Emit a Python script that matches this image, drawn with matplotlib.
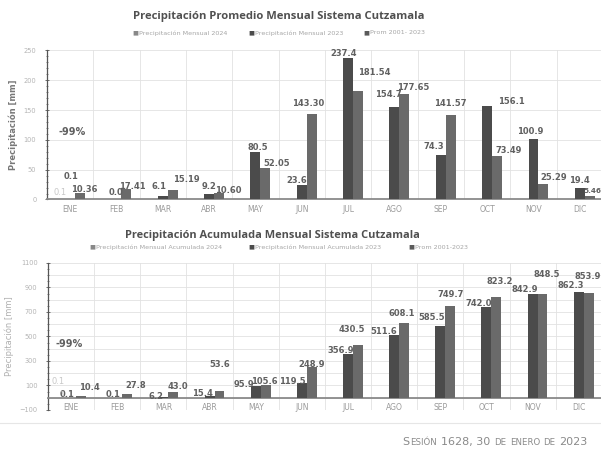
import matplotlib
matplotlib.use("Agg")
import matplotlib.pyplot as plt
import numpy as np
from matplotlib.ticker import MultipleLocator, FixedLocator

# datos (mm)
meses = ["ENE", "FEB", "MAR", "ABR", "MAY", "JUN", "JUL", "AGO", "SEP", "OCT", "NOV", "DIC"]

mensual_2024 = [0.1] + [np.nan] * 11
mensual_2023 = [0.1, 0.0, 6.1, 9.2, 80.5, 23.6, 237.4, 154.7, 74.3, 156.1, 100.9, 19.4]
mensual_prom = [10.36, 17.41, 15.19, 10.60, 52.05, 143.30, 181.54, 177.65, 141.57, 73.49, 25.29, 5.46]

acum_2024 = [0.1] + [np.nan] * 11
acum_2023 = [0.1, 0.1, 6.2, 15.4, 95.9, 119.5, 356.9, 511.6, 585.5, 742.0, 842.9, 862.3]
acum_prom = [10.4, 27.8, 43.0, 53.6, 105.6, 248.9, 430.5, 608.1, 749.7, 823.2, 848.5, 853.9]

# desplazamientos de etiquetas (dx en categorias, dy en mm)
off_m23 = [(0.02, 39), (0, 11), (-0.09, 16), (0, 12), (0.06, 6), (-0.1, 8),
           (-0.1, 7), (-0.13, 21), (-0.14, 14), (0.52, 8), (-0.07, 13), (0.0, 12)]
off_mpr = [(0.1, 6), (0.12, 5), (0.3, 19), (0.2, 4), (0.25, 9), (-0.07, 18),
           (0.35, 32), (0.2, 11), (0, 19), (0.25, 9), (0.23, 11), (0.045, 8.5)]
off_a23 = [(-0.09, 30), (-0.1, 30), (-0.15, 8), (-0.15, 23), (-0.26, 16), (-0.2, 16),
           (-0.15, 32), (-0.22, 32), (-0.18, 72), (-0.17, 29), (-0.18, 44), (-0.18, 50)]
off_apr = [(0.18, 77), (0.18, 76), (0.09, 52), (0, 221), (-0.02, 26), (0, 26),
           (-0.13, 130), (-0.05, 82), (0, 95), (0.08, 129), (0.1, 160), (-0.02, 138)]

C24 = "#c4c4c4"
C23 = "#4b4b4b"
CPR = "#6a6a6a"
TXT = "#606060"
LIGHT = "#b4b4b4"
W = 0.215

plt.rcParams["font.family"] = ["DejaVu Sans"]

fig = plt.figure(figsize=(6.01, 4.5), dpi=100)
fig.patch.set_facecolor("white")


def base_axes(ax, ymin, ymax, major, minor, grid_step):
    x = np.arange(len(meses))
    ax.set_xlim(-0.5, 11.52)
    ax.set_ylim(ymin, ymax)
    ax.set_xticks(x, labels=meses)
    ax.xaxis.set_minor_locator(FixedLocator(np.arange(-0.5, 12, 1)))
    ax.grid(True, which="minor", axis="x", color="#e2e2e2", lw=0.6)
    ax.yaxis.set_major_locator(MultipleLocator(major))
    ax.yaxis.set_minor_locator(MultipleLocator(minor))
    for g in np.arange(ymin, ymax + 1, grid_step):
        ax.axhline(g, color="#e2e2e2", lw=0.6, zorder=0)
    ax.spines["top"].set_visible(False)
    ax.spines["right"].set_visible(False)
    ax.spines["left"].set_color("#555555")
    ax.spines["left"].set_linewidth(0.9)
    ax.spines["bottom"].set_position(("data", 0))
    ax.spines["bottom"].set_color("#8a8a8a")
    ax.spines["bottom"].set_linewidth(1.3)
    ax.tick_params(axis="x", which="both", length=0, labelsize=5.5, labelcolor="#9a9a9a", pad=4)
    ax.tick_params(axis="y", which="major", length=3, width=0.6, color="#555555",
                   direction="inout", labelsize=4.8, labelcolor=LIGHT, pad=6)
    ax.tick_params(axis="y", which="minor", length=2, width=0.5, color="#555555", direction="inout")
    ax.set_axisbelow(True)
    return x


def fmt(v, dec):
    return f"{v:.{dec}f}"


lab_kw = dict(ha="center", va="center", fontsize=6, fontweight="bold", color=TXT, zorder=5)

# ---------- grafica superior ----------
ax1 = fig.add_axes([0.0779, 0.5567, 0.927, 0.3311])
x = base_axes(ax1, 0, 250, 50, 10, 50)
ax1.bar(x - W, mensual_2024, W, color=C24, zorder=3)
ax1.bar(x, mensual_2023, W, color=C23, zorder=3)
ax1.bar(x + W, mensual_prom, W, color=CPR, zorder=3)
for i in x:
    dx, dy = off_m23[i]
    ax1.text(i + dx, mensual_2023[i] + dy, fmt(mensual_2023[i], 1), **lab_kw)
    dx, dy = off_mpr[i]
    kw = dict(lab_kw)
    if i == 11:
        kw["fontsize"] = 5.2
    ax1.text(i + W + dx, mensual_prom[i] + dy, fmt(mensual_prom[i], 2), **kw)
ax1.text(-W, mensual_2024[0] + 11, fmt(mensual_2024[0], 1), ha="center", va="center",
         fontsize=6, color="#c8c8c8", zorder=5)
ax1.text(0.05, 114, "-99%", ha="center", va="center", fontsize=7, fontweight="bold", color=TXT)
ax1.set_ylabel("Precipitación [mm]", fontsize=6, fontweight="bold", color="#777777", labelpad=4)

fig.text(0.463, 0.964, "Precipitación Promedio Mensual Sistema Cutzamala",
         ha="center", va="center", fontsize=8.1, fontweight="bold", color="#505050",
         family="Open Sans")
for xt, t, c in [(0.221, "Precipitación Mensual 2024", "#888888"),
                 (0.414, "Precipitación Mensual 2023", "#4b4b4b"),
                 (0.604, "Prom 2001- 2023", "#5a5a5a")]:
    fig.text(xt, 0.927, "■", ha="left", va="center", fontsize=4.5, color=c)
    fig.text(xt + 0.011, 0.927, t, ha="left", va="center", fontsize=4.6, color="#a6a6a6")

# ---------- grafica inferior ----------
ax2 = fig.add_axes([0.0799, 0.0889, 0.923, 0.3267])
x = base_axes(ax2, -100, 1100, 200, 50, 100)
ax2.set_yticks(np.arange(-100, 1101, 200))
ax2.bar(x - W, acum_2024, W, color=C24, zorder=3)
ax2.bar(x, acum_2023, W, color=C23, zorder=3)
ax2.bar(x + W, acum_prom, W, color=CPR, zorder=3)
for i in x:
    dx, dy = off_a23[i]
    ax2.text(i + dx, acum_2023[i] + dy, fmt(acum_2023[i], 1), **lab_kw)
    dx, dy = off_apr[i]
    ax2.text(i + W + dx, acum_prom[i] + dy, fmt(acum_prom[i], 1), **lab_kw)
ax2.annotate(fmt(acum_2024[0], 1), xy=(-W + 0.05, acum_2024[0] + 15),
             xytext=(-0.28, acum_2024[0] + 136), ha="center", va="center",
             fontsize=6, color="#c8c8c8", zorder=5,
             arrowprops=dict(arrowstyle="-", color="#c8c8c8", lw=0.6, shrinkA=2, shrinkB=0))
ax2.text(-0.05, 438, "-99%", ha="center", va="center", fontsize=7, fontweight="bold", color=TXT)
ax2.set_ylabel("Precipitación [mm]", fontsize=6, color="#b0b0b0", labelpad=4)

fig.text(0.453, 0.476, "Precipitación Acumulada Mensual Sistema Cutzamala",
         ha="center", va="center", fontsize=7.9, fontweight="bold", color="#505050",
         family="Open Sans")
for xt, t, c in [(0.148, "Precipitación Mensual Acumulada 2024", "#888888"),
                 (0.413, "Precipitación Mensual Acumulada 2023", "#4b4b4b"),
                 (0.68, "Prom 2001-2023", "#5a5a5a")]:
    fig.text(xt, 0.451, "■", ha="left", va="center", fontsize=4.5, color=c)
    fig.text(xt + 0.011, 0.451, t, ha="left", va="center", fontsize=4.6, color="#a6a6a6")

# ---------- pie ----------
fig.add_artist(plt.Line2D([0, 1], [0.06, 0.06], color="#e6e6e6", lw=0.8))
piezas = [("S", 8), ("ESIÓN", 6.2), (" ", 8), ("1628, 30", 8), (" ", 8), ("DE", 6.2),
          (" ", 6.2), ("ENERO", 6.2), (" ", 6.2), ("DE", 6.2), (" ", 8), ("2023", 8)]
renderer = fig.canvas.get_renderer()
textos = []
for s, sz in piezas:
    t = fig.text(0, 0.012, s, ha="left", va="baseline", fontsize=sz, color="#8a8a8a")
    textos.append(t)
anchos = []
for (s, sz), t in zip(piezas, textos):
    if s == " ":
        anchos.append(sz * 0.38 / 72 * 100 / 601)
    else:
        anchos.append(t.get_window_extent(renderer).width / 601)
xpos = 0.978 - sum(anchos)
for t, w in zip(textos, anchos):
    t.set_x(xpos)
    xpos += w

fig.savefig("out.png", dpi=100, facecolor="white")
